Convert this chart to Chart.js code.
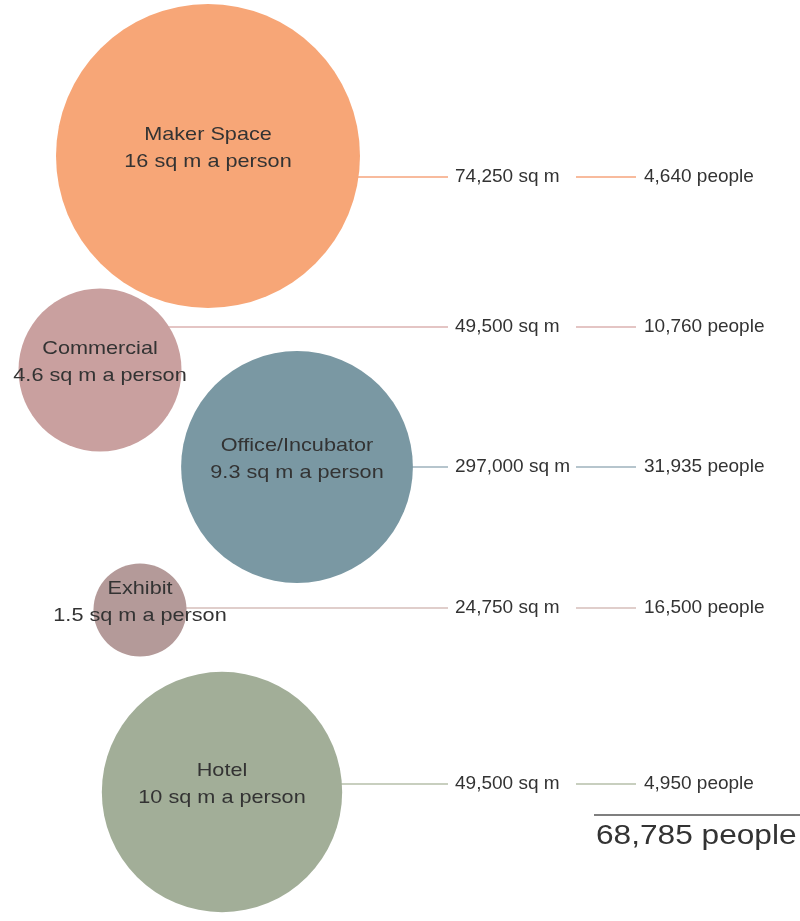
<!DOCTYPE html>
<html>
<head>
<meta charset="utf-8">
<title>Space per person</title>
<script src="https://cdn.jsdelivr.net/npm/chart.js@4/dist/chart.umd.min.js"></script>
<style>
    html, body { margin: 0; padding: 0; background: #fff; }
    #wrap { width: 800px; height: 921px; position: relative; }
</style>
</head>
<body>
<div id="wrap"><canvas id="spaceChart"></canvas></div>
<script>
// Data
const categories = ['Maker Space', 'Commercial', 'Office/Incubator', 'Exhibit', 'Hotel'];
const sqmPerPerson = [16, 4.6, 9.3, 1.5, 10];
const areaSqm = [74250, 49500, 297000, 24750, 49500];
const people = [4640, 10760, 31935, 16500, 4950];

// Layout (page pixels, used as the bubble chart's x/y scale units)
const bubbleX = [208, 100, 297, 140, 222];
const bubbleY = [156, 370, 467, 610, 792];
const leaderY = [177, 327, 467, 608, 784];
const RADIUS_K = 38; // bubble area ~ sq m per person

const fillColors = ['#f7a677', '#c9a09f', '#7a98a3', '#b49a99', '#a2ae98'];
const lineColors = ['#f6a57d', '#dcb3b1', '#9fb3bd', '#d6bfba', '#b6c0aa'];
const TEXT = '#333333';
const FONT = '"Liberation Sans", Arial, sans-serif';

const fmt = n => n.toLocaleString('en-US');
const total = people.reduce((a, b) => a + b, 0);

// text drawn slightly wide, like the original
function wideText(ctx, str, x, y, size, align, stretch) {
    ctx.save();
    ctx.font = `${size}px ${FONT}`;
    ctx.fillStyle = TEXT;
    ctx.textBaseline = 'middle';
    ctx.textAlign = align;
    ctx.translate(x, y);
    ctx.scale(stretch, 1);
    ctx.fillText(str, 0, 0);
    ctx.restore();
}

const leaderPlugin = {
    id: 'leaders',
    beforeDatasetsDraw(chart) {
        const ctx = chart.ctx;
        const meta = chart.getDatasetMeta(0);
        ctx.save();
        ctx.font = `19px ${FONT}`;
        meta.data.forEach((pt, i) => {
            const y = chart.scales.y.getPixelForValue(leaderY[i]);
            const sqmText = fmt(areaSqm[i]) + ' sq m';
            const textEnd = 455 + ctx.measureText(sqmText).width;
            ctx.strokeStyle = lineColors[i];
            ctx.lineWidth = 1.5;
            ctx.beginPath();
            ctx.moveTo(pt.x, y);
            ctx.lineTo(448, y);
            ctx.moveTo(Math.max(576, textEnd + 4), y);
            ctx.lineTo(636, y);
            ctx.stroke();
        });
        ctx.restore();
    },
    afterDatasetsDraw(chart) {
        const ctx = chart.ctx;
        const meta = chart.getDatasetMeta(0);
        meta.data.forEach((pt, i) => {
            const y = chart.scales.y.getPixelForValue(leaderY[i]);
            wideText(ctx, categories[i], pt.x, pt.y - 21, 19, 'center', 1.14);
            wideText(ctx, sqmPerPerson[i] + ' sq m a person', pt.x, pt.y + 6, 19, 'center', 1.14);
            wideText(ctx, fmt(areaSqm[i]) + ' sq m', 455, y, 19, 'left', 1);
            wideText(ctx, fmt(people[i]) + ' people', 644, y, 19, 'left', 1);
        });
        // total
        ctx.save();
        ctx.strokeStyle = '#555555';
        ctx.lineWidth = 1.5;
        ctx.beginPath();
        ctx.moveTo(594, 815);
        ctx.lineTo(800, 815);
        ctx.stroke();
        ctx.restore();
        wideText(ctx, fmt(total) + ' people', 596, 836, 28, 'left', 1.13);
    }
};

function initChart() {
    const ctx = document.getElementById('spaceChart').getContext('2d');
    new Chart(ctx, {
        type: 'bubble',
        data: {
            labels: categories,
            datasets: [{
                data: categories.map((c, i) => ({
                    x: bubbleX[i],
                    y: bubbleY[i],
                    r: RADIUS_K * Math.sqrt(sqmPerPerson[i])
                })),
                backgroundColor: fillColors,
                borderWidth: 0,
                hoverRadius: 0,
                clip: false
            }]
        },
        options: {
            responsive: true,
            maintainAspectRatio: false,
            animation: false,
            events: [],
            layout: { padding: 0, autoPadding: false },
            plugins: {
                legend: { display: false },
                tooltip: { enabled: false }
            },
            scales: {
                x: { type: 'linear', min: 0, max: 800, display: false },
                y: { type: 'linear', min: 0, max: 921, reverse: true, display: false }
            }
        },
        plugins: [leaderPlugin]
    });
}

initChart();
</script>
</body>
</html>
